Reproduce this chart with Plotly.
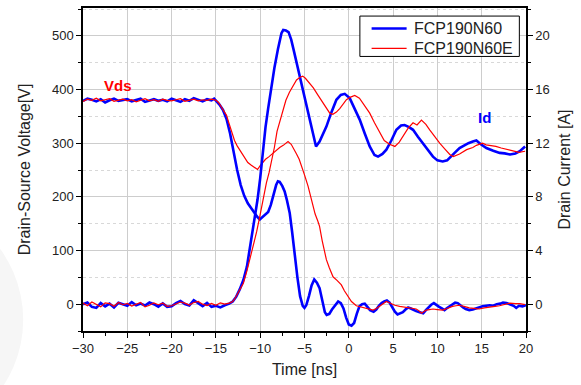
import plotly.graph_objects as go

# ---------------- data ----------------
# FCP190N60 (blue) drain-source voltage [V]
t_vds_a = [-30, -29.5, -29, -28.5, -28, -27.5, -27, -26.5, -26, -25.5,
           -25, -24.5, -24, -23.5, -23, -22.5, -22, -21.5, -21, -20.5,
           -20, -19.5, -19, -18.5, -18, -17.5, -17, -16.5, -16, -15.5,
           -15.2, -14.9, -14.6, -14.2, -13.8, -13.4, -13.0, -12.6, -12.2, -11.8,
           -11.4, -11.0, -10.6, -10.3, -10.05, -9.7, -9.4, -9.1, -8.8, -8.5,
           -8.2, -8.0, -7.8, -7.5, -7.24, -7.0, -6.67, -6.4, -6.1, -5.8,
           -5.5, -5.2, -5.0, -4.8, -4.5, -4.2, -3.9, -3.6, -3.3, -3.0,
           -2.7, -2.5, -2.2, -1.9, -1.5, -1.2, -0.9, -0.6, -0.3, 0.0,
           0.3, 0.6, 0.9, 1.2, 1.5, 1.8, 2.1, 2.4, 2.8, 3.1,
           3.4, 3.7, 4.0, 4.3, 4.6, 4.9, 5.2, 5.5, 5.8, 6.1,
           6.4, 6.7, 7.0, 7.3, 7.6, 8.0, 8.4, 8.7, 9.0, 9.3,
           9.6, 9.9, 10.2, 10.5, 10.8, 11.1, 11.4, 11.7, 12.0, 12.3,
           12.6, 12.9, 13.2, 13.6, 14.0, 14.3, 14.7, 15.1, 15.5, 15.9,
           16.3, 16.7, 17.1, 17.4, 17.8, 18.2, 18.6, 18.9, 19.2, 19.6,
           20.0]
vds_a = [379, 383, 381, 378, 382, 376, 380, 383, 379, 381,
         382, 378, 381, 383, 377, 380, 382, 379, 381, 378,
         383, 380, 377, 382, 379, 384, 381, 378, 382, 380,
         383, 378, 372, 362, 345, 318, 282, 250, 222, 202,
         188, 178, 168, 162, 158, 163, 168, 172, 185, 205,
         222, 229, 228, 220, 210, 195, 170, 135, 90, 50,
         15, -3, -7, -2, 15, 35, 46, 40, 30, 5,
         -15, -20, -18, -10, 0, 5, 2, -8, -25, -38,
         -40, -35, -18, -4, 0, 1, -5, -11, -14, -10,
         -3, 2, 5, 7, 3, -5, -14, -19, -17, -15,
         -10, -6, -8, -11, -13, -15, -17, -11, -5, -1,
         2, -2, -5, -8, -11, -7, -4, 0, 3, 2,
         -3, -6, -9, -11, -10, -8, -6, -4, -3, -2,
         -3, 0, 1, 3, 2, 0, -3, -7, -3, -4,
         -2]

# FCP190N60 (blue) drain current [A]
t_id_a = [-30, -29.5, -29, -28.5, -28, -27.5, -27, -26.5, -26, -25.5,
          -25, -24.5, -24, -23.5, -23, -22.5, -22, -21.5, -21, -20.5,
          -20, -19.5, -19, -18.5, -18, -17.5, -17, -16.5, -16, -15.5,
          -15, -14.5, -14, -13.5,
          -13.1, -12.7, -12.3, -11.9, -11.5, -11.2, -10.9, -10.6, -10.3, -10.0,
          -9.7, -9.4, -9.1, -8.74, -8.4, -8.0, -7.8, -7.6, -7.4, -7.1,
          -6.8, -6.5, -6.2, -5.9, -5.5, -5.1, -4.8, -4.4, -4.0, -3.7,
          -3.3, -2.9, -2.53, -2.0, -1.4, -0.9, -0.46, 0.1, 0.6, 1.23,
          1.8, 2.36, 2.9, 3.3, 3.8, 4.24, 4.8, 5.37, 5.9, 6.3,
          6.8, 7.25, 7.8, 8.37, 9.0, 9.5, 10.0, 10.6, 11.1, 11.58,
          12.0, 12.5, 13.0, 13.5, 14.0, 14.4, 14.9, 15.53, 16.3, 17.03,
          17.6, 18.2, 18.8, 19.3, 19.9]
id_a = [0.0, 0.12, -0.2, -0.28, 0.08, -0.16, 0.04, -0.24, 0.1, 0.0,
        -0.12, 0.16, -0.08, 0.04, -0.1, 0.12, 0.0, -0.18, 0.06, -0.2,
        -0.16, 0.08, 0.24, 0.0, -0.1, 0.3, 0.06, -0.14, 0.1, -0.2,
        -0.12, -0.24, -0.08, 0.04,
        0.2, 0.56, 1.12, 1.8, 2.8, 4.04, 5.0, 6.28, 7.8, 9.4,
        11.4, 13.2, 14.6, 16.24, 17.6, 19.0, 19.72, 20.2, 20.44, 20.4,
        20.28, 19.72, 18.88, 18.0, 16.8, 15.8, 15.0, 13.6, 12.4, 11.76,
        12.12, 12.72, 13.24, 14.24, 15.24, 15.6, 15.68, 15.36, 14.6, 13.76,
        12.72, 11.76, 11.12, 11.0, 11.2, 11.52, 12.2, 13.0, 13.32, 13.36,
        13.2, 13.0, 12.48, 12.0, 11.48, 11.0, 10.72, 10.64, 10.72, 11.0,
        11.32, 11.64, 11.84, 12.0, 12.12, 12.2, 11.92, 11.64, 11.44, 11.28,
        11.24, 11.16, 11.24, 11.4, 11.76]

# FCP190N60E (red) drain-source voltage [V]
t_vds_b = [-30, -29.5, -29, -28.5, -28, -27.5, -27, -26.5, -26, -25.5,
           -25, -24.5, -24, -23.5, -23, -22.5, -22, -21.5, -21, -20.5,
           -20, -19.5, -19, -18.5, -18, -17.5, -17, -16.5, -16, -15.5,
           -15.0, -14.7, -14.4, -14.1, -13.8, -13.5, -13.2, -12.9, -12.6, -12.3,
           -12.0, -11.7, -11.4, -11.0, -10.6, -10.3, -10.0, -9.7, -9.4, -9.0,
           -8.6, -8.2, -7.8, -7.4, -7.1, -6.86, -6.5, -6.2, -5.9, -5.6,
           -5.3, -5.0, -4.6, -4.2, -3.8, -3.5, -3.3, -3.0, -2.7, -2.53,
           -2.2, -1.78, -1.3, -0.84, -0.5, -0.1, 0.3, 0.85, 1.3, 1.6,
           2.0, 2.4, 2.73, 3.1, 3.5, 3.9, 4.24, 4.5, 4.8, 5.2,
           5.74, 6.3, 6.9, 7.3, 7.6, 7.9, 8.2, 8.5, 8.74, 9.1,
           9.5, 10.0, 10.6, 11.1, 11.7, 12.1, 12.5, 13.0, 13.6, 14.1,
           14.7, 15.3, 15.9, 16.5, 17.0, 17.6, 18.2, 18.8, 19.3, 19.9]
vds_b = [378, 382, 380, 384, 379, 381, 383, 378, 380, 382,
         379, 381, 377, 380, 383, 379, 381, 378, 382, 380,
         379, 381, 383, 378, 380, 382, 379, 381, 380, 382,
         380, 376, 368, 360, 352, 336, 318, 305, 295, 287,
         278, 270, 264, 259, 254, 251, 258, 265, 270, 275,
         281, 287, 292, 296, 300, 303, 298, 290, 280, 270,
         257, 241, 220, 195, 168, 155, 145, 118, 92, 83,
         68, 51, 44, 36, 25, 14, 5, -3, -5, -6,
         -9, -10, -11, -8, -4, 1, 5, 3, 1, -2,
         -4, -5, -6, -8, -9, -12, -17, -14, -11, -10,
         -9, -10, -11, -8, -4, -3, -2, -4, -7, -8,
         -9, -7, -5, -4, -3, -1, 2, 1, 1, -1]

# FCP190N60E (red) drain current [A]
t_id_b = [-30, -29.5, -29, -28.5, -28, -27.5, -27, -26.5, -26, -25.5,
          -25, -24.5, -24, -23.5, -23, -22.5, -22, -21.5, -21, -20.5,
          -20, -19.5, -19, -18.5, -18, -17.5, -17, -16.5, -16, -15.5,
          -15, -14.5, -14, -13.5,
          -13.1, -12.8, -12.4, -11.9, -11.5, -11.1, -10.8, -10.4, -10.05, -9.7,
          -9.3, -9.0, -8.7, -8.4, -8.1, -7.8, -7.5, -7.1, -6.7, -6.3,
          -5.9, -5.5, -5.2, -4.9, -4.5, -4.0, -3.5, -2.9, -2.5, -2.15,
          -1.8, -1.4, -1.0, -0.6, -0.27, 0.2, 0.67, 1.2, 1.8, 2.36,
          2.9, 3.5, 4.0, 4.6, 5.2, 5.7, 6.1, 6.7, 7.25, 7.7,
          8.2, 8.7, 9.13, 9.7, 10.26, 10.8, 11.4, 11.8, 12.5, 13.3,
          14.0, 14.4, 15.1, 15.5, 16.0, 16.6, 17.2, 17.8, 18.5, 19.2,
          19.9]
id_b = [0.08, -0.12, 0.16, 0.0, -0.2, 0.1, 0.04, -0.16, 0.12, -0.04,
        0.06, -0.14, 0.0, 0.12, -0.2, -0.08, 0.1, -0.04, 0.08, -0.16,
        -0.12, 0.04, 0.16, 0.08, -0.06, 0.12, 0.2, 0.0, -0.1, 0.06,
        -0.08, 0.1, 0.0, 0.08,
        0.2, 0.48, 1.0, 1.56, 2.48, 3.52, 4.28, 5.4, 6.52, 7.8,
        9.04, 9.8, 10.72, 11.68, 12.88, 13.6, 14.4, 15.2, 15.8, 16.32,
        16.72, 16.92, 17.0, 16.84, 16.52, 16.12, 15.6, 15.0, 14.56, 14.24,
        14.16, 14.32, 14.6, 15.0, 15.24, 15.44, 15.56, 15.36, 14.8, 14.24,
        13.52, 12.84, 12.2, 11.92, 11.76, 12.08, 12.52, 13.12, 13.52, 13.36,
        13.72, 13.4, 13.0, 12.48, 12.0, 11.6, 11.16, 11.0, 11.2, 11.52,
        11.68, 11.84, 12.0, 11.88, 11.84, 11.76, 11.64, 11.56, 11.44, 11.32,
        11.4]

series_names = ["FCP190N60", "FCP190N60E"]
x_ticks = [-30, -25, -20, -15, -10, -5, 0, 5, 10, 15, 20]

# ---------------- figure ----------------
FONT = "Arial, Liberation Sans, sans-serif"
BLUE = "#0000ff"
RED = "#ff0000"
colors = [BLUE, RED]
widths = [2.6, 1.2]

fig = go.Figure()
fig.add_trace(go.Scatter(x=t_vds_a, y=vds_a, mode="lines", name=series_names[0],
                         line=dict(color=BLUE, width=widths[0])))
fig.add_trace(go.Scatter(x=t_id_a, y=id_a, mode="lines", name=series_names[0],
                         yaxis="y2", line=dict(color=BLUE, width=widths[0])))
fig.add_trace(go.Scatter(x=t_vds_b, y=vds_b, mode="lines", name=series_names[1],
                         line=dict(color=RED, width=widths[1])))
fig.add_trace(go.Scatter(x=t_id_b, y=id_b, mode="lines", name=series_names[1],
                         yaxis="y2", line=dict(color=RED, width=widths[1])))

axis_common = dict(
    showline=True, linecolor="black", linewidth=1.5,
    ticks="outside", ticklen=5, tickwidth=1.2, tickcolor="black",
    tickfont=dict(family=FONT, size=13, color="#222"),
    zeroline=False, automargin=False,
)
TITLE_FONT = dict(family=FONT, size=16, color="#222")

# legend box drawn in paper coordinates (compact rows like the original)
legend_shapes = [
    dict(type="rect", xref="paper", yref="paper", x0=0.625, x1=0.985,
         y0=0.850, y1=0.975, fillcolor="white", line=dict(color="black", width=1)),
]
legend_annots = []
row_y = [0.9366, 0.8748]
for name, col, w, ry in zip(series_names, colors, widths, row_y):
    legend_shapes.append(dict(type="line", xref="paper", yref="paper",
                              x0=0.6515, x1=0.7305, y0=ry, y1=ry,
                              line=dict(color=col, width=w)))
    legend_annots.append(dict(x=0.7418, y=ry, xref="paper", yref="paper",
                              xanchor="left", yanchor="middle", text=name,
                              showarrow=False,
                              font=dict(family=FONT, size=16, color="#222")))

fig.update_layout(
    width=581, height=385,
    margin=dict(l=83, r=55, t=8, b=54),
    paper_bgcolor="white", plot_bgcolor="white",
    template="none",
    showlegend=False,
    font=dict(family=FONT, color="#222"),
    xaxis=dict(
        range=[-30, 20], tickvals=x_ticks, mirror=True,
        showgrid=True, gridcolor="#cdcdcd", gridwidth=1.3,
        minor=dict(ticks="outside", ticklen=3, tickcolor="black", dtick=2.5,
                   tick0=-30, showgrid=False),
        title=dict(text="Time [ns]", font=TITLE_FONT, standoff=8),
        **axis_common,
    ),
    yaxis=dict(
        range=[-50, 552], tick0=0, dtick=100,
        showgrid=True, gridcolor="#cdcdcd", gridwidth=1.3,
        minor=dict(ticks="outside", ticklen=3, tickcolor="black", dtick=50,
                   tick0=0, showgrid=True, gridcolor="#d8d8d8",
                   griddash="dot", gridwidth=1),
        title=dict(text="Drain-Source Voltage[V]", font=TITLE_FONT, standoff=17),
        **axis_common,
    ),
    yaxis2=dict(
        overlaying="y", side="right",
        range=[-2, 22.08], tick0=0, dtick=4, showgrid=False,
        minor=dict(ticks="outside", ticklen=3, tickcolor="black", dtick=2,
                   tick0=0, showgrid=False),
        title=dict(text="Drain Current [A]", font=TITLE_FONT, standoff=10),
        **axis_common,
    ),
    annotations=[
        dict(x=-26.1, y=407, xref="x", yref="y", text="<b>Vds</b>", showarrow=False,
             font=dict(family=FONT, size=15, color=RED)),
        dict(x=15.34, y=348, xref="x", yref="y", text="<b>Id</b>", showarrow=False,
             font=dict(family=FONT, size=15, color=BLUE)),
    ] + legend_annots,
    shapes=[
        dict(type="circle", xref="paper", yref="paper", layer="below",
             x0=-0.72, x1=-0.135, y0=-0.35, y1=0.42,
             fillcolor="#f6f6f6", line=dict(width=0)),
    ] + legend_shapes,
)

fig.write_html("out.html")
